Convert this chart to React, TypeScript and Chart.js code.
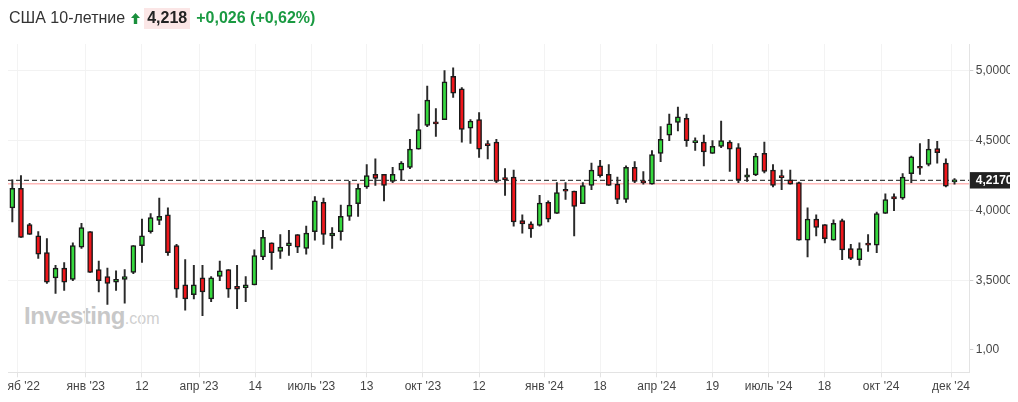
import React, { useEffect, useRef } from 'react';
import { Chart, registerables } from 'chart.js';

Chart.register(...registerables);

// Weekly OHLC, US 10-year yield (Nov 2022 – Dec 2024)
const opens = [
  4.02, 4.16, 3.90, 3.82, 3.70, 3.52, 3.59, 3.51, 3.74, 3.85,
  3.58, 3.53, 3.49, 3.51, 3.56, 3.75, 3.85, 3.93, 3.97, 3.75,
  3.47, 3.40, 3.52, 3.37, 3.53, 3.58, 3.46, 3.45, 3.47, 3.67,
  3.77, 3.71, 3.75, 3.83, 3.73, 3.85, 4.06, 3.82, 3.85, 3.96,
  4.05, 4.17, 4.26, 4.26, 4.21, 4.29, 4.31, 4.44, 4.61, 4.63,
  4.65, 4.96, 4.87, 4.59, 4.65, 4.468, 4.49, 4.227, 4.24, 3.93,
  3.907, 3.895, 4.06, 3.98, 4.143, 4.14, 4.05, 4.18, 4.32, 4.26,
  4.19, 4.08, 4.31, 4.208, 4.19, 4.41, 4.54, 4.63, 4.66, 4.486,
  4.49, 4.41, 4.46, 4.49, 4.45, 4.24, 4.256, 4.41, 4.29, 4.24,
  4.22, 4.20, 3.79, 3.94, 3.90, 3.79, 3.93, 3.73, 3.65, 3.758,
  3.754, 3.98, 4.10, 4.09, 4.265, 4.308, 4.33, 4.443, 4.34, 4.206,
];
const highs = [
  4.22, 4.25, 3.91, 3.85, 3.80, 3.61, 3.63, 3.77, 3.91, 3.85,
  3.64, 3.59, 3.57, 3.58, 3.75, 3.94, 3.98, 4.09, 4.02, 3.76,
  3.65, 3.61, 3.61, 3.53, 3.64, 3.58, 3.61, 3.53, 3.72, 3.86,
  3.77, 3.83, 3.86, 3.83, 3.89, 4.10, 4.09, 3.88, 4.04, 4.21,
  4.19, 4.33, 4.37, 4.26, 4.31, 4.35, 4.51, 4.69, 4.89, 4.73,
  5.00, 5.02, 4.88, 4.65, 4.70, 4.50, 4.51, 4.30, 4.29, 3.97,
  3.92, 4.11, 4.07, 4.20, 4.20, 4.14, 4.20, 4.34, 4.36, 4.33,
  4.24, 4.32, 4.35, 4.28, 4.43, 4.60, 4.69, 4.74, 4.69, 4.52,
  4.54, 4.50, 4.64, 4.50, 4.48, 4.30, 4.41, 4.49, 4.33, 4.29,
  4.29, 4.205, 4.02, 3.97, 3.90, 3.935, 3.94, 3.76, 3.77, 3.83,
  3.99, 4.12, 4.12, 4.265, 4.39, 4.48, 4.51, 4.495, 4.37, 4.23,
];
const lows = [
  3.92, 3.81, 3.83, 3.66, 3.48, 3.41, 3.43, 3.50, 3.73, 3.56,
  3.42, 3.33, 3.43, 3.34, 3.55, 3.63, 3.84, 3.90, 3.68, 3.38,
  3.29, 3.37, 3.25, 3.35, 3.50, 3.38, 3.30, 3.35, 3.47, 3.65,
  3.58, 3.66, 3.68, 3.70, 3.69, 3.79, 3.76, 3.73, 3.79, 3.93,
  3.96, 4.16, 4.18, 4.07, 4.20, 4.22, 4.30, 4.44, 4.60, 4.53,
  4.65, 4.81, 4.49, 4.48, 4.38, 4.37, 4.20, 4.11, 3.89, 3.84,
  3.81, 3.89, 3.92, 3.98, 4.08, 3.82, 4.05, 4.15, 4.24, 4.18,
  4.05, 4.06, 4.20, 4.19, 4.19, 4.35, 4.50, 4.57, 4.46, 4.43,
  4.32, 4.41, 4.45, 4.28, 4.20, 4.21, 4.25, 4.27, 4.17, 4.15,
  4.19, 3.79, 3.67, 3.82, 3.77, 3.79, 3.65, 3.65, 3.61, 3.71,
  3.70, 3.98, 4.00, 4.08, 4.20, 4.26, 4.32, 4.34, 4.17, 4.19,
];
const closes = [
  4.16, 3.81, 3.83, 3.69, 3.49, 3.59, 3.49, 3.75, 3.88, 3.56,
  3.50, 3.48, 3.51, 3.53, 3.75, 3.82, 3.95, 3.96, 3.70, 3.44,
  3.37, 3.47, 3.42, 3.52, 3.57, 3.44, 3.44, 3.47, 3.68, 3.81,
  3.70, 3.74, 3.77, 3.74, 3.84, 4.07, 3.83, 3.84, 3.96, 4.04,
  4.16, 4.25, 4.23, 4.18, 4.26, 4.34, 4.44, 4.58, 4.79, 4.62,
  4.92, 4.84, 4.58, 4.64, 4.44, 4.465, 4.21, 4.222, 3.92, 3.905,
  3.87, 4.055, 3.94, 4.13, 4.139, 4.03, 4.18, 4.29, 4.25, 4.18,
  4.08, 4.31, 4.21, 4.199, 4.40, 4.51, 4.62, 4.67, 4.50, 4.50,
  4.42, 4.46, 4.50, 4.44, 4.22, 4.256, 4.39, 4.28, 4.18, 4.236,
  4.19, 3.79, 3.94, 3.88, 3.80, 3.91, 3.72, 3.66, 3.73, 3.754,
  3.98, 4.08, 4.084, 4.24, 4.385, 4.303, 4.44, 4.414, 4.175, 4.217,
];

const xTickIndex = [0.55, 8.5, 15, 21.6, 28.1, 34.6, 41, 47.5, 54, 61.55, 68, 74.55, 81, 87.5, 93.95, 100.5, 108.6];
const xTickLabels = ["нояб '22", "янв '23", '12', "апр '23", '14', "июль '23", '13', "окт '23", '12', "янв '24", '18', "апр '24", '19', "июль '24", '18', "окт '24", "дек '24"];
const yTicks = [3.5, 4.0, 4.5, 5.0];
const lowerPaneTicks = [1];
const lastPrice = 4.217;
const prevClose = 4.192;

const title = 'США 10-летние';
const priceText = '4,218';
const changeText = '+0,026 (+0,62%)';

const FONT = '"Liberation Sans", Arial, sans-serif';
const GREEN = '#36d93e';
const RED = '#f0161b';

const X_MIN = -0.5;
const X_MAX = 110.71;
const Y_MIN = 3.0714;
const Y_MAX = 5.1907;
const Y2_MAX = 1.417;

export default function App() {
  const ref = useRef<HTMLCanvasElement | null>(null);

  useEffect(() => {
    if (!ref.current) return;
    const fmt4 = (v: number) => v.toFixed(4).replace('.', ',');
    const isLast = (ctx: any) => ctx.tick && Math.abs(ctx.tick.value - lastPrice) < 1e-9;

    const chart = new Chart(ref.current, {
      type: 'bar',
      data: {
        datasets: [
          {
            type: 'bar',
            label: 'body',
            data: opens.map((o, i) => ({ x: i, y: [o, closes[i]] })) as any,
            backgroundColor: (ctx: any) =>
              closes[ctx.dataIndex] >= opens[ctx.dataIndex] ? GREEN : RED,
            borderColor: '#1a1a1a',
            borderWidth: 1.5,
            borderSkipped: false,
            barThickness: 5,
            minBarLength: 2,
            grouped: false,
            order: 0,
            xAxisID: 'x',
            yAxisID: 'y',
          } as any,
          {
            type: 'bar',
            label: 'wick',
            data: highs.map((h, i) => ({ x: i, y: [lows[i], h] })) as any,
            backgroundColor: '#2a2a2a',
            borderWidth: 0,
            barThickness: 1.3,
            grouped: false,
            order: 1,
            xAxisID: 'x',
            yAxisID: 'y',
          } as any,
          {
            type: 'line',
            label: 'last',
            data: [
              { x: X_MIN, y: lastPrice },
              { x: X_MAX, y: lastPrice },
            ],
            borderColor: '#444',
            borderDash: [5, 3],
            borderWidth: 1.3,
            pointRadius: 0,
            order: 2,
            xAxisID: 'x',
            yAxisID: 'y',
          } as any,
          {
            type: 'line',
            label: 'prev',
            data: [
              { x: X_MIN, y: prevClose },
              { x: X_MAX, y: prevClose },
            ],
            borderColor: '#ffb8b8',
            borderWidth: 1.5,
            pointRadius: 0,
            order: 3,
            xAxisID: 'x',
            yAxisID: 'y',
          } as any,
        ],
      },
      options: {
        animation: false,
        responsive: false,
        devicePixelRatio: 1,
        layout: { padding: { top: 36, right: 0, bottom: 0, left: 0 } },
        plugins: { legend: { display: false }, tooltip: { enabled: false } },
        scales: {
          x: {
            type: 'linear',
            min: X_MIN,
            max: X_MAX,
            offset: false,
            afterBuildTicks: (s: any) => {
              s.ticks = xTickIndex.map((v) => ({ value: v }));
            },
            afterFit: (s: any) => {
              s.paddingLeft = 0;
              s.paddingRight = 0;
              s.height = 29.7;
            },
            ticks: {
              autoSkip: false,
              maxRotation: 0,
              minRotation: 0,
              padding: 2.2,
              color: '#444',
              font: { family: FONT, size: 12 },
              callback: (_v: any, i: number) => xTickLabels[i],
            },
            grid: { color: '#f3f3f3', tickColor: '#e3e3e3', tickLength: 5, offset: false },
            border: { color: '#e3e3e3' },
          },
          y: {
            type: 'linear',
            position: 'right',
            stack: 'panes',
            stackWeight: 296.7,
            min: Y_MIN,
            max: Y_MAX,
            beginAtZero: false,
            afterBuildTicks: (s: any) => {
              s.ticks = [...yTicks, lastPrice].sort((a, b) => a - b).map((v) => ({ value: v }));
            },
            afterFit: (s: any) => {
              s.width = 48.7;
            },
            ticks: {
              padding: 2.5,
              color: (ctx: any) => (isLast(ctx) ? '#ffffff' : '#444'),
              font: (ctx: any) => ({ family: FONT, size: 12, weight: isLast(ctx) ? 'bold' : 'normal' }),
              callback: (v: any) => fmt4(Number(v)),
              showLabelBackdrop: (ctx: any) => isLast(ctx),
              backdropColor: '#222222',
              backdropPadding: { left: 6, right: 3, top: 1, bottom: 1 },
            } as any,
            grid: {
              color: (ctx: any) => (isLast(ctx) ? 'rgba(0,0,0,0)' : '#f2f2f2'),
              tickColor: (ctx: any) => (isLast(ctx) ? 'rgba(0,0,0,0)' : '#cfcfcf'),
              tickLength: 4,
            },
            border: { color: '#e3e3e3' },
          },
          y2: {
            type: 'linear',
            position: 'right',
            stack: 'panes',
            stackWeight: 31.6,
            min: 0,
            max: Y2_MAX,
            afterBuildTicks: (s: any) => {
              s.ticks = [...lowerPaneTicks, Y2_MAX].map((v) => ({ value: v }));
            },
            afterFit: (s: any) => {
              s.width = 48.7;
            },
            ticks: {
              padding: 2.5,
              color: '#444',
              font: { family: FONT, size: 12 },
              callback: (v: any) => (lowerPaneTicks.includes(Number(v)) ? Number(v).toFixed(2).replace('.', ',') : ''),
            },
            grid: {
              color: (ctx: any) => (ctx.tick && ctx.tick.value === Y2_MAX ? '#cccccc' : 'rgba(0,0,0,0)'),
              tickColor: (ctx: any) => (ctx.tick && ctx.tick.value === Y2_MAX ? 'rgba(0,0,0,0)' : '#cfcfcf'),
              tickLength: 4,
            },
            border: { color: '#e3e3e3' },
          },
        },
      } as any,
    });
    return () => chart.destroy();
  }, []);

  return (
    <div style={{ position: 'relative', width: 1010, height: 394, fontFamily: FONT }}>
      <div
        style={{
          position: 'absolute',
          left: 16,
          top: 294.4,
          lineHeight: '28px',
          whiteSpace: 'nowrap',
          color: '#c8c8c8',
        }}
      >
        <span style={{ fontSize: 24, fontWeight: 'bold', letterSpacing: '-0.5px' }}>Investing</span>
        <span style={{ fontSize: 16, color: '#d0d0d0' }}>.com</span>
      </div>
      <canvas
        ref={ref}
        width={1010}
        height={394}
        style={{ position: 'absolute', left: 0, top: 0, width: 1010, height: 394 }}
      />
      <div
        style={{
          position: 'absolute',
          left: 1,
          top: 0,
          height: 20,
          lineHeight: '20px',
          fontSize: 16,
          whiteSpace: 'nowrap',
          color: '#333',
          display: 'flex',
          alignItems: 'center',
        }}
      >
        <span>{title}</span>
        <svg width="9" height="11" viewBox="0 0 9 11" style={{ marginLeft: 6, marginRight: 4 }}>
          <path d="M4.5 0 L9 5 L6.2 5 L6.2 11 L2.8 11 L2.8 5 L0 5 Z" fill="#1a8f3c" />
        </svg>
        <span style={{ fontWeight: 'bold', background: '#fbe6e6', padding: '1px 3px', color: '#222' }}>{priceText}</span>
        <span style={{ fontWeight: 'bold', color: '#1a9a42', marginLeft: 6 }}>{changeText}</span>
      </div>
    </div>
  );
}
